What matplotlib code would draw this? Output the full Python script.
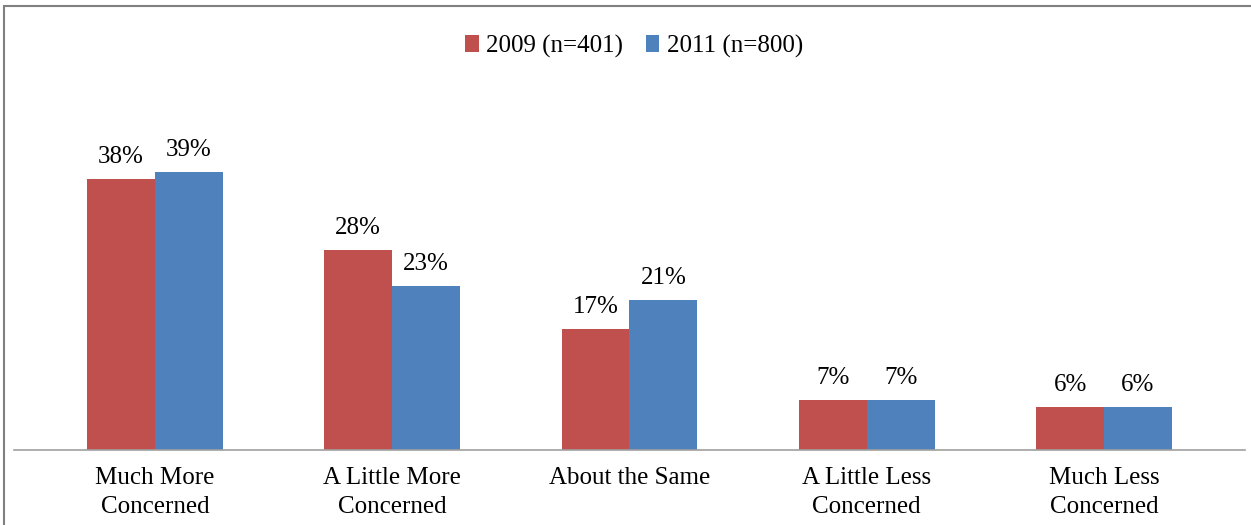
import numpy as np
import matplotlib.pyplot as plt
from matplotlib.patches import Rectangle

categories = ["Much More\nConcerned", "A Little More\nConcerned", "About the Same",
              "A Little Less\nConcerned", "Much Less\nConcerned"]
vals_2009 = [38, 28, 17, 7, 6]
vals_2011 = [39, 23, 21, 7, 6]
series_names = ["2009 (n=401)", "2011 (n=800)"]

plt.rcParams['font.family'] = ['Liberation Serif', 'DejaVu Serif']

fig = plt.figure(figsize=(12.51, 5.25), dpi=100)
ax = fig.add_axes([14 / 1251, 75 / 525, 1231 / 1251, 321 / 525])

x = np.arange(len(categories))
w = 0.286
b1 = ax.bar(x - w / 2, vals_2009, w, color="#C0504D", label=series_names[0])
b2 = ax.bar(x + w / 2, vals_2011, w, color="#4F81BD", label=series_names[1])

for bars, vals in [(b1, vals_2009), (b2, vals_2011)]:
    for bar, v in zip(bars, vals):
        ax.annotate(str(v) + "%", (bar.get_x() + bar.get_width() / 2, v),
                    xytext=(0, 8), textcoords="offset points",
                    ha="center", va="bottom", fontsize=18)

ax.set_xlim(-0.594, 4.594)
ax.set_ylim(0, 45)
ax.set_xticks(x)
ax.set_xticklabels(categories, fontsize=18, linespacing=1.45, va="top")
ax.tick_params(axis="x", length=0, pad=12)
ax.set_yticks([])
for s in ["top", "left", "right"]:
    ax.spines[s].set_visible(False)
ax.spines["bottom"].set_color("#A0A0A0")
ax.spines["bottom"].set_linewidth(1.2)

fig.legend(loc="center", bbox_to_anchor=(634 / 1251, 1 - 46 / 525), ncol=2,
           frameon=False, fontsize=18, handlelength=0.55, handleheight=0.65,
           handletextpad=0.3, columnspacing=0.9)

fig.patches.append(Rectangle((4 / 1251, -0.1), 1.2, 1 - 6 / 525 + 0.1,
                             transform=fig.transFigure, fill=False,
                             edgecolor="#808080", linewidth=1.5, clip_on=False))

fig.savefig("out.png", dpi=100)
